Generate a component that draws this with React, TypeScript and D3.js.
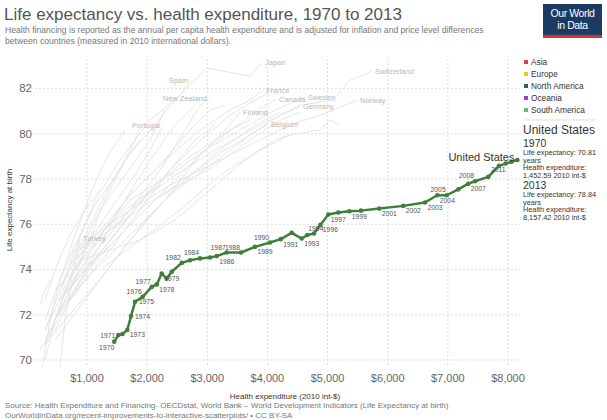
import * as d3 from 'd3';

const W = 607;
const H = 420;
const FONT = '"Liberation Sans", Arial, Helvetica, sans-serif';

// axis ticks
const xTicks = [1000, 2000, 3000, 4000, 5000, 6000, 7000, 8000];
const yTicks = [70, 72, 74, 76, 78, 80, 82];

// United States, 1970-2013 (health expenditure in 2010 int-$, life expectancy in years)
const usYears = [
  1970, 1971, 1972, 1973, 1974, 1975, 1976, 1977, 1978, 1979, 1980, 1981, 1982, 1983, 1984,
  1985, 1986, 1987, 1988, 1989, 1990, 1991, 1992, 1993, 1994, 1995, 1996, 1997, 1998, 1999,
  2000, 2001, 2002, 2003, 2004, 2005, 2006, 2007, 2008, 2009, 2010, 2011, 2012, 2013,
];
const usHealthExp = [
  1452.59, 1520, 1590, 1670, 1732, 1798, 1926, 2076, 2159, 2242, 2325, 2408, 2575, 2713, 2879,
  3045, 3157, 3323, 3561, 3793, 4043, 4221, 4404, 4570, 4663, 4775, 4880, 5012, 5179, 5362,
  5556, 5860, 6259, 6620, 6825, 6981, 7174, 7340, 7452, 7673, 7850, 7960, 8060, 8157.42,
];
const usLifeExp = [
  70.81, 71.1, 71.15, 71.33, 71.94, 72.57, 72.79, 73.23, 73.34, 73.82, 73.6, 73.9, 74.29, 74.41, 74.49,
  74.53, 74.59, 74.75, 74.75, 75.0, 75.19, 75.34, 75.62, 75.37, 75.52, 75.59, 75.97, 76.43, 76.52, 76.57,
  76.6, 76.69, 76.81, 76.96, 77.28, 77.28, 77.54, 77.79, 77.9, 78.09, 78.58, 78.68, 78.76, 78.84,
];
// which side of its point each year label sits on
const usLabelSide: Record<number, string> = {
  1970: 'bl', 1971: 'l', 1973: 'br', 1974: 'r', 1975: 'r', 1976: 'al', 1977: 'al', 1978: 'br',
  1979: 'br', 1982: 'al', 1984: 'al', 1986: 'br', 1987: 'al', 1988: 'al', 1989: 'br', 1990: 'al',
  1991: 'br', 1993: 'br', 1994: 'ar', 1996: 'br', 1997: 'br', 1999: 'br', 2001: 'br', 2002: 'br',
  2003: 'br', 2004: 'br', 2005: 'al', 2007: 'br', 2008: 'al', 2011: 'bl',
};

// faded background countries: [health expenditure, life expectancy]
const japan = [[717, 73.09], [967, 74.86], [1299, 77.07], [1632, 78.83], [2048, 80.16], [2463, 81.48], [2996, 82.9], [3711, 82.54], [3910, 83.15]];
const spain = [[302, 71.33], [551, 73.09], [800, 74.86], [1133, 77.07], [1549, 78.83], [2048, 80.6], [2547, 81.7], [2730, 82.37]];
const france = [[468, 71.77], [800, 73.53], [1216, 75.52], [1715, 77.29], [2297, 78.83], [2879, 80.16], [3378, 81.04], [3711, 81.48], [3927, 81.93]];
const newZealand = [[551, 72.65], [884, 73.98], [1299, 75.3], [1715, 76.63], [2214, 78.39], [2630, 80.16], [2879, 81.26], [3045, 81.57]];
const canada = [[551, 72.65], [967, 73.98], [1466, 75.52], [2048, 77.51], [2630, 78.83], [3129, 79.72], [3628, 80.6], [3960, 81.26], [4143, 81.53]];
const sweden = [[800, 74.42], [1216, 75.52], [1715, 77.07], [2380, 78.17], [2962, 79.28], [3545, 80.16], [4127, 81.04], [4625, 81.62]];
const switzerland = [[800, 73.98], [1216, 75.3], [1798, 76.85], [2463, 78.17], [3129, 79.28], [3877, 80.38], [4542, 81.26], [5091, 81.48], [5374, 82.37], [5740, 82.76]];
const norway = [[717, 74.64], [1133, 75.52], [1715, 76.63], [2380, 77.73], [3045, 78.61], [3711, 79.5], [4376, 80.38], [4875, 80.82], [5291, 81.26], [5490, 81.48]];
const germany = [[551, 72.21], [1050, 73.75], [1715, 75.52], [2380, 77.29], [3045, 78.61], [3711, 79.94], [4210, 80.82], [4542, 81.18]];
const finland = [[468, 71.77], [884, 73.53], [1383, 75.08], [1965, 76.63], [2463, 77.95], [2962, 79.28], [3295, 80.16], [3545, 80.95]];
const belgium = [[551, 72.65], [1050, 74.2], [1549, 75.52], [2131, 77.07], [2713, 78.17], [3295, 79.28], [3711, 79.94], [4010, 80.42]];
const portugal = [[302, 70.0], [468, 71.77], [717, 73.53], [1050, 75.3], [1383, 76.63], [1798, 78.17], [2048, 79.28], [2264, 80.34]];
const turkey = [[551, 69.6], [634, 71.77], [717, 73.09], [800, 74.42], [884, 75.39]];
const italy = [[468, 71.33], [800, 73.09], [1216, 75.08], [1632, 77.07], [2048, 78.83], [2463, 80.38], [2713, 81.04], [2879, 81.48]];
const australia = [[717, 72.65], [1133, 74.42], [1632, 76.18], [2214, 77.95], [2796, 79.5], [3378, 80.82], [3794, 81.48], [4043, 81.84]];
const iceland = [[884, 74.86], [1299, 75.96], [1715, 77.29], [2214, 78.61], [2713, 80.16], [3045, 81.04], [3295, 81.26]];
const israel = [[551, 73.09], [884, 74.86], [1216, 76.63], [1632, 78.17], [2048, 79.72], [2297, 81.04]];
const netherlands = [[884, 74.86], [1383, 75.74], [1965, 76.85], [2547, 77.73], [3129, 78.61], [3711, 79.72], [4210, 80.6], [4542, 80.95]];
const austria = [[468, 70.88], [967, 72.65], [1466, 74.42], [2048, 76.41], [2630, 77.95], [3212, 79.28], [3794, 80.38], [4210, 80.95]];
const unitedKingdom = [[551, 72.21], [967, 73.53], [1383, 74.86], [1881, 76.63], [2380, 78.39], [2796, 79.72], [3129, 80.38]];
const ireland = [[302, 70.66], [634, 71.77], [1133, 73.31], [1715, 75.3], [2297, 77.07], [2879, 79.06], [3378, 80.16], [3711, 80.6]];
const greece = [[302, 71.77], [551, 73.53], [800, 75.08], [1133, 76.85], [1549, 78.39], [1798, 79.72], [1881, 80.25]];
const korea = [[252, 69.6], [385, 71.77], [551, 73.53], [800, 75.52], [1083, 77.51], [1349, 79.06], [1632, 80.16]];
const slovenia = [[551, 73.09], [800, 74.64], [1133, 76.41], [1383, 77.73], [1632, 78.83], [1881, 79.72]];
const denmark = [[884, 74.42], [1383, 74.86], [1881, 75.3], [2463, 76.18], [3045, 77.51], [3628, 78.83], [4127, 79.72], [4376, 79.94]];
const luxembourg = [[1216, 73.98], [1881, 75.3], [2547, 76.63], [3212, 78.17], [3877, 79.28], [4376, 79.94], [4875, 80.16], [5041, 80.6], [5208, 80.38]];
const czechia = [[468, 73.09], [717, 73.75], [967, 74.64], [1299, 75.74], [1632, 76.63], [1965, 77.29], [2214, 77.73]];
const chile = [[302, 72.65], [468, 73.98], [717, 75.52], [967, 76.63], [1216, 77.51]];
const estonia = [[302, 70.66], [468, 71.77], [634, 73.09], [884, 74.64], [1133, 75.74]];
const poland = [[302, 71.33], [468, 72.21], [634, 73.31], [800, 73.98]];
const hungary = [[219, 70.44], [385, 71.1], [551, 71.99], [717, 72.65], [884, 73.09]];
const mexico = [[219, 72.43], [302, 73.09], [385, 73.53]];
const slovakia = [[302, 70.88], [468, 71.77], [634, 72.65], [850, 73.75], [1050, 74.33]];

const greyCountries = [
  { name: 'Japan', pts: japan, side: 'r' },
  { name: 'Spain', pts: spain, side: 'l' },
  { name: 'France', pts: france, side: 'r' },
  { name: 'New Zealand', pts: newZealand, side: 'l' },
  { name: 'Canada', pts: canada, side: 'r' },
  { name: 'Sweden', pts: sweden, side: 'r' },
  { name: 'Switzerland', pts: switzerland, side: 'r' },
  { name: 'Norway', pts: norway, side: 'r' },
  { name: 'Germany', pts: germany, side: 'r' },
  { name: 'Finland', pts: finland, side: 'r' },
  { name: 'Belgium', pts: belgium, side: 'r' },
  { name: 'Portugal', pts: portugal, side: 'l' },
  { name: 'Turkey', pts: turkey, side: 'r' },
  { name: 'Italy', pts: italy, side: '' },
  { name: 'Australia', pts: australia, side: '' },
  { name: 'Iceland', pts: iceland, side: '' },
  { name: 'Israel', pts: israel, side: '' },
  { name: 'Netherlands', pts: netherlands, side: '' },
  { name: 'Austria', pts: austria, side: '' },
  { name: 'United Kingdom', pts: unitedKingdom, side: '' },
  { name: 'Ireland', pts: ireland, side: '' },
  { name: 'Greece', pts: greece, side: '' },
  { name: 'South Korea', pts: korea, side: '' },
  { name: 'Slovenia', pts: slovenia, side: '' },
  { name: 'Denmark', pts: denmark, side: '' },
  { name: 'Luxembourg', pts: luxembourg, side: '' },
  { name: 'Czech Republic', pts: czechia, side: '' },
  { name: 'Chile', pts: chile, side: '' },
  { name: 'Estonia', pts: estonia, side: '' },
  { name: 'Poland', pts: poland, side: '' },
  { name: 'Hungary', pts: hungary, side: '' },
  { name: 'Mexico', pts: mexico, side: '' },
  { name: 'Slovakia', pts: slovakia, side: '' },
];

const legendNames = ['Asia', 'Europe', 'North America', 'Oceania', 'South America'];
const legendColors = ['#d9404e', '#f2c318', '#2f6b2f', '#a23cc0', '#5dbf78'];

const US_GREEN = '#3f7f3a';

function labelAttrs(side: string, px: number, py: number) {
  switch (side) {
    case 'l': return { x: px - 3, y: py + 2.5, anchor: 'end' };
    case 'r': return { x: px + 4, y: py + 2.5, anchor: 'start' };
    case 'al': return { x: px - 1, y: py - 3, anchor: 'end' };
    case 'ar': return { x: px + 1, y: py - 4, anchor: 'start' };
    case 'bl': return { x: px, y: py + 8, anchor: 'end' };
    default: return { x: px + 2.5, y: py + 7.5, anchor: 'start' };
  }
}

export default function App() {
  const x = d3.scaleLinear().domain([135, 8200]).range([35, 520]);
  const y = d3.scaleLinear().domain([70, 83.3]).range([360, 59]);
  const line = d3.line<number[]>().x(d => x(d[0])).y(d => y(d[1]));

  const usPts = usYears.map((yr, i) => ({ yr, he: usHealthExp[i], le: usLifeExp[i] }));
  const usPath = d3.line<typeof usPts[0]>().x(d => x(d.he)).y(d => y(d.le))(usPts) || '';
  const last = usPts[usPts.length - 1];
  const first = usPts[0];

  const fmt = d3.format(',.2f');

  return (
    <div style={{ position: 'absolute', left: 0, top: 0 }}>
      <svg width={W} height={H} style={{ display: 'block', fontFamily: FONT }}>
        <rect width={W} height={H} fill="#fff" />
        <defs>
          <clipPath id="plot">
            <rect x={35} y={50} width={490} height={318} />
          </clipPath>
        </defs>

        {/* header */}
        <text x={4} y={20} fontSize={17} fill="#555">Life expectancy vs. health expenditure, 1970 to 2013</text>
        <text x={5} y={33} fontSize={8.6} fill="#777">
          Health financing is reported as the annual per capita health expenditure and is adjusted for inflation and price level differences
        </text>
        <text x={5} y={43.5} fontSize={8.6} fill="#777">between countries (measured in 2010 international dollars).</text>

        {/* logo */}
        <rect x={543} y={4} width={59} height={34} fill="#1b3b62" />
        <rect x={543} y={35} width={59} height={3} fill="#d1352b" />
        <text x={572.5} y={17} fontSize={10.5} fill="#fff" textAnchor="middle" letterSpacing={-0.4}>Our World</text>
        <text x={572.5} y={29} fontSize={10.5} fill="#fff" textAnchor="middle" letterSpacing={-0.4}>in Data</text>

        {/* grid */}
        {yTicks.map(t => (
          <line key={'gy' + t} x1={35} x2={520} y1={y(t)} y2={y(t)} stroke="#dcdcdc" strokeDasharray="2,2" />
        ))}
        {xTicks.map(t => (
          <line key={'gx' + t} x1={x(t)} x2={x(t)} y1={59} y2={366} stroke="#dcdcdc" strokeDasharray="2,2" />
        ))}

        {/* y axis */}
        {yTicks.map(t => (
          <text key={'ty' + t} x={32} y={y(t) + 4} fontSize={11.5} fill="#666" textAnchor="end">{t}</text>
        ))}
        <text transform="translate(12,210) rotate(-90)" fontSize={8} fill="#333" textAnchor="middle">Life expectancy at birth</text>

        {/* x axis */}
        {xTicks.map(t => (
          <text key={'tx' + t} x={x(t)} y={382} fontSize={11} fill="#666" textAnchor="middle">{'$' + d3.format(',')(t)}</text>
        ))}
        <text x={285} y={399} fontSize={8} fill="#333" textAnchor="middle">Health expenditure (2010 int-$)</text>

        {/* background countries */}
        <g clipPath="url(#plot)">
          {greyCountries.map(c => (
            <path key={c.name} d={line(c.pts) || ''} fill="none" stroke="#e2e2e2" strokeWidth={0.9} />
          ))}
        </g>
        {greyCountries.filter(c => c.side).map(c => {
          const p = c.pts[c.pts.length - 1];
          const px = x(p[0]);
          const py = y(p[1]);
          const dx = c.side === 'l' ? -3 : 3;
          return (
            <text key={'gl' + c.name} x={px + dx} y={py + 2.5} fontSize={7.5} fill="#b8b8b8"
              textAnchor={c.side === 'l' ? 'end' : 'start'}>{c.name}</text>
          );
        })}

        {/* United States */}
        <path d={usPath} fill="none" stroke={US_GREEN} strokeWidth={2.5} strokeLinejoin="round" />
        {usPts.map(d => (
          <circle key={'c' + d.yr} cx={x(d.he)} cy={y(d.le)} r={2.3} fill={US_GREEN} />
        ))}
        {usPts.filter(d => usLabelSide[d.yr]).map(d => {
          const a = labelAttrs(usLabelSide[d.yr], x(d.he), y(d.le));
          return (
            <text key={'yl' + d.yr} x={a.x} y={a.y} fontSize={6.8} fill="#555" textAnchor={a.anchor}>{d.yr}</text>
          );
        })}
        <text x={x(last.he) - 3} y={y(last.le) + 1} fontSize={11} fill="#333" textAnchor="end">United States</text>

        {/* legend */}
        {legendNames.map((n, i) => (
          <g key={n} transform={`translate(524,${63 + i * 12})`}>
            <rect x={0} y={-3} width={4} height={4} fill={legendColors[i]} />
            <text x={7} y={2} fontSize={8.3} fill="#333">{n}</text>
          </g>
        ))}
        <line x1={524} x2={595} y1={120} y2={120} stroke="#ddd" />
        <text x={523} y={134} fontSize={12} fill="#333">United States</text>
        <text x={523} y={147} fontSize={10.5} fill="#333">{first.yr}</text>
        <text x={523} y={155} fontSize={7.3} fill="#333">{'Life expectancy: ' + first.le.toFixed(2)}</text>
        <text x={523} y={162.5} fontSize={7.3} fill="#333">years</text>
        <text x={523} y={170} fontSize={7.3} fill="#333">Health expenditure:</text>
        <text x={523} y={177.5} fontSize={7.3} fill="#333">{fmt(first.he) + ' 2010 int-$'}</text>
        <text x={523} y={189} fontSize={10.5} fill="#333">{last.yr}</text>
        <text x={523} y={197} fontSize={7.3} fill="#333">{'Life expectancy: ' + last.le.toFixed(2)}</text>
        <text x={523} y={204.5} fontSize={7.3} fill="#333">years</text>
        <text x={523} y={212} fontSize={7.3} fill="#333">Health expenditure:</text>
        <text x={523} y={219.5} fontSize={7.3} fill="#333">{fmt(last.he) + ' 2010 int-$'}</text>

        {/* footer */}
        <text x={5} y={408} fontSize={8} fill="#777">
          Source: Health Expenditure and Financing- OECDstat, World Bank – World Development Indicators (Life Expectancy at birth)
        </text>
        <text x={5} y={418} fontSize={8} fill="#777">OurWorldInData.org/recent-improvements-to-interactive-scatterplots/ • CC BY-SA</text>
      </svg>
    </div>
  );
}
